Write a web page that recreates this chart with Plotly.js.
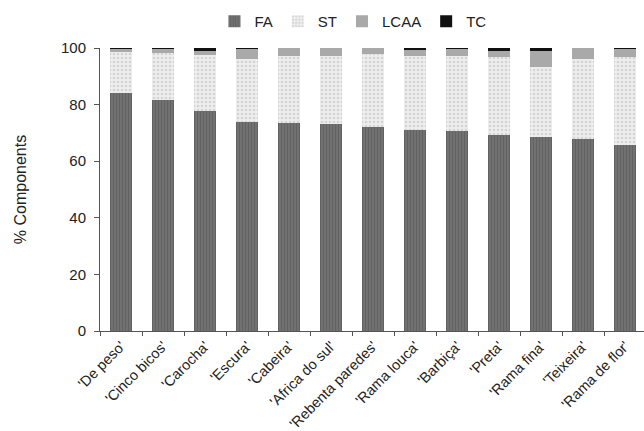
<!DOCTYPE html>
<html>
<head>
<meta charset="utf-8">
<script src="https://cdn.plot.ly/plotly-3.0.1.min.js"></script>
<style>html,body{margin:0;padding:0;background:#fff;}#chart{width:644px;height:431px;}</style>
</head>
<body>
<div id="chart"></div>
<script>
const categories = ["'De peso'", "'Cinco bicos'", "'Carocha'", "'Escura'", "'Cabeira'", "'Africa do sul'", "'Rebenta paredes'", "'Rama louca'", "'Barbiça'", "'Preta'", "'Rama fina'", "'Teixeira'", "'Rama de flor'"];
const FA   = [84.0, 81.8, 77.8, 73.7, 73.5, 73.2, 72.0, 71.2, 70.7, 69.4, 68.4, 67.8, 65.7];
const ST   = [14.6, 16.4, 19.8, 22.3, 23.8, 24.1, 25.9, 25.9, 26.6, 27.4, 24.8, 28.2, 31.1];
const LCAA = [1.1, 1.3, 1.4, 3.5, 2.7, 2.7, 2.1, 2.2, 2.4, 2.2, 5.6, 4.0, 2.7];
const TC   = [0.3, 0.5, 1.0, 0.5, 0.0, 0.0, 0.0, 0.7, 0.3, 1.0, 1.2, 0.0, 0.5];

const fam = "Liberation Sans, Arial, sans-serif";
const txt = "#222";
const traces = [
  {name: "FA", y: FA, marker: {color: "#6c6c6c", pattern: {shape: "|", fgcolor: "#606060", bgcolor: "#717171", size: 3, solidity: 0.3}}},
  {name: "ST", y: ST, marker: {color: "#e9e9e9", pattern: {shape: ".", fgcolor: "#d4d4d4", bgcolor: "#eeeeee", size: 4, solidity: 0.35}}},
  {name: "LCAA", y: LCAA, marker: {color: "#a9a9a9"}},
  {name: "TC", y: TC, marker: {color: "#111111"}}
].map(t => Object.assign({type: "bar", x: categories, hoverinfo: "none"}, t));

const layout = {
  width: 644, height: 431,
  margin: {l: 100, r: 0, t: 47.5, b: 99.5},
  barmode: "stack",
  bargap: 0.46,
  paper_bgcolor: "#fff", plot_bgcolor: "#fff",
  font: {family: fam, size: 14, color: txt},
  showlegend: true,
  legend: {orientation: "h", x: 0.465, xanchor: "center", y: 0.95, yanchor: "middle", yref: "container",
           font: {family: fam, size: 15, color: txt}, traceorder: "normal", itemwidth: 30},
  xaxis: {
    type: "category", range: [-0.5, 12.45],
    showline: true, linecolor: "#555", linewidth: 1,
    ticks: "outside", ticklen: 4, tickcolor: "#555", tickson: "boundaries",
    tickangle: -45, tickfont: {family: fam, size: 14.5, color: txt},
    showgrid: false, zeroline: false
  },
  yaxis: {
    range: [0, 100], tickvals: [0, 20, 40, 60, 80, 100],
    showline: true, linecolor: "#555", linewidth: 1,
    ticks: "outside", ticklen: 5, tickcolor: "#555", ticklabelstandoff: 5,
    tickfont: {family: fam, size: 15, color: txt},
    showgrid: false, zeroline: false,
    title: {text: "% Components", font: {family: fam, size: 16, color: txt}, standoff: 30}
  }
};
Plotly.newPlot("chart", traces, layout, {staticPlot: true, displayModeBar: false});
</script>
</body>
</html>
